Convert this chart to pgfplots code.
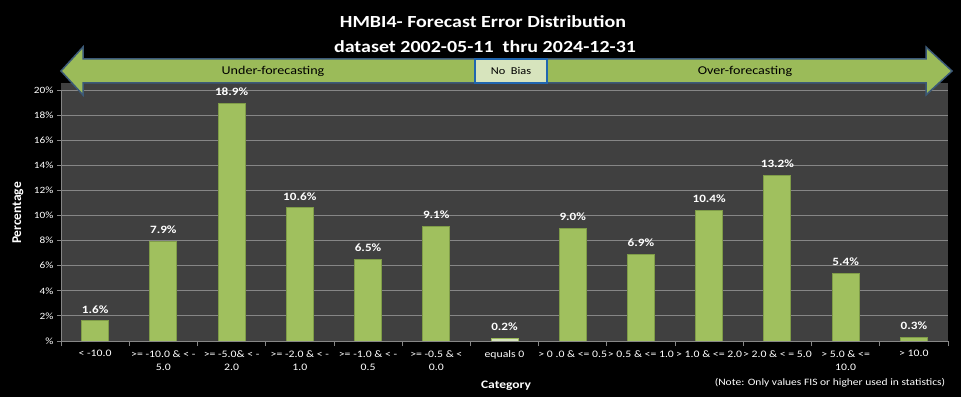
\documentclass[border=0pt]{standalone}
\usepackage{fontspec}
\setmainfont{Carlito}[FakeStretch=1.18]
\newfontfamily\plainfont{Carlito}
\usepackage{pgfplots}
\pgfplotsset{compat=1.18}
\definecolor{plotbg}{HTML}{404040}
\definecolor{bargreen}{HTML}{9BBB59}
\definecolor{barfill}{HTML}{A0C05E}
\definecolor{baredge}{HTML}{7F9C48}
\definecolor{axisgray}{HTML}{868686}
\definecolor{arrowedge}{HTML}{3C5A78}
\definecolor{nobias}{HTML}{D7E4BD}
\definecolor{nobiasedge}{HTML}{2066B0}
\pgfplotstableread{
x y
0 1.6
1 7.9
2 18.9
3 10.6
4 6.5
5 9.1
7 9.0
8 6.9
9 10.4
10 13.2
11 5.4
12 0.3
}\greendata
\pgfplotstableread{
x y
6 0.2
}\zerodata
\begin{document}
\begin{tikzpicture}
\fill[black] (0,0) rectangle (961bp,397bp);
\path[use as bounding box] (0,0) rectangle (961bp,397bp);
\fill[plotbg] (61bp,56bp) rectangle (948bp,314bp);
\begin{axis}[
  at={(61bp,56bp)}, anchor=south west,
  scale only axis, width=887bp, height=251bp,
  xmin=-0.5, xmax=12.5, ymin=0, ymax=20,
  axis background/.style={fill=plotbg},
  axis lines*=left,
  axis line style={draw=axisgray, line width=0.8bp},
  ymajorgrids, grid style={draw=axisgray, line width=0.8bp},
  ytick={0,2,...,20},
  yticklabels={\%,2\%,4\%,6\%,8\%,10\%,12\%,14\%,16\%,18\%,20\%},
  ytick style={draw=axisgray, line width=0.8bp},
  tick align=outside, major tick length=4bp,
  yticklabel style={font=\fontsize{9.6}{11}\selectfont, text=white},
  xtick={0,...,12},
  xtick style={draw=none},
  xticklabels={
    {< -10.0},
    {>= -10.0 \& < -\\5.0},
    {>= -5.0\& < -\\2.0},
    {>= -2.0 \& < -\\1.0},
    {>= -1.0 \& < -\\0.5},
    {>= -0.5 \& <\\0.0},
    {equals 0},
    {> 0 .0 \& <= 0.5},
    {> 0.5 \& <= 1.0},
    {> 1.0 \& <= 2.0},
    {> 2.0 \& < = 5.0},
    {> 5.0 \& <=\\10.0},
    {> 10.0}},
  xticklabel style={font=\fontsize{10}{13}\selectfont, text=white, align=center, yshift=-2bp},
  extra x ticks={-0.5,0.5,...,12.5},
  extra x tick labels={},
  extra x tick style={grid=none, xtick style={draw=axisgray, line width=0.8bp}, major tick length=5bp, tick align=outside},
  /pgf/number format/assume math mode=true,
  nodes near coords={\pgfmathprintnumber[fixed,fixed zerofill,precision=1]{\pgfplotspointmeta}\%},
  nodes near coords style={font=\bfseries\fontsize{11.2}{13}\selectfont, text=white, yshift=4bp},
  ybar, bar width=27bp, bar shift=0bp,
]
\addplot[draw=baredge, line width=1bp, fill=barfill] table[x=x,y=y] {\greendata};
\addplot[draw=bargreen, line width=1bp, fill=nobias] table[x=x,y=y] {\zerodata};
\end{axis}
% arrow
\filldraw[fill=bargreen, draw=arrowedge, line width=1.5bp]
  (61bp,326bp) -- (83bp,350bp) -- (83bp,338bp) -- (926bp,338bp) -- (926bp,350bp) -- (952bp,326bp)
  -- (926bp,302bp) -- (926bp,314bp) -- (83bp,314bp) -- (83bp,302bp) -- cycle;
\filldraw[fill=nobias, draw=nobiasedge, line width=2bp] (475bp,314bp) rectangle (547bp,338bp);
\node[font=\fontsize{12}{14}\selectfont, text=black] at (273bp,326bp) {Under-forecasting};
\node[font=\fontsize{12}{14}\selectfont, text=black] at (745bp,326bp) {Over-forecasting};
\node[font=\fontsize{10.5}{12}\selectfont, text=black] at (511bp,326bp) {No\ \ Bias};
% titles
\node[font=\bfseries\fontsize{17}{20}\selectfont, text=white, anchor=base] at (483bp,369bp) {HMBI4- Forecast Error Distribution};
\node[font=\bfseries\fontsize{17}{20}\selectfont, text=white, anchor=base] at (485bp,344bp) {dataset 2002-05-11\ \ thru 2024-12-31};
\node[font=\plainfont\bfseries\fontsize{13.5}{15}\selectfont, text=white, rotate=90] at (18bp,184bp) {Percentage};
\node[font=\bfseries\fontsize{11.5}{14}\selectfont, text=white] at (506bp,11bp) {Category};
\node[font=\fontsize{9.8}{11}\selectfont, text=white] at (830bp,14bp) {(Note: Only values FIS or higher used in statistics)};
\end{tikzpicture}
\end{document}
